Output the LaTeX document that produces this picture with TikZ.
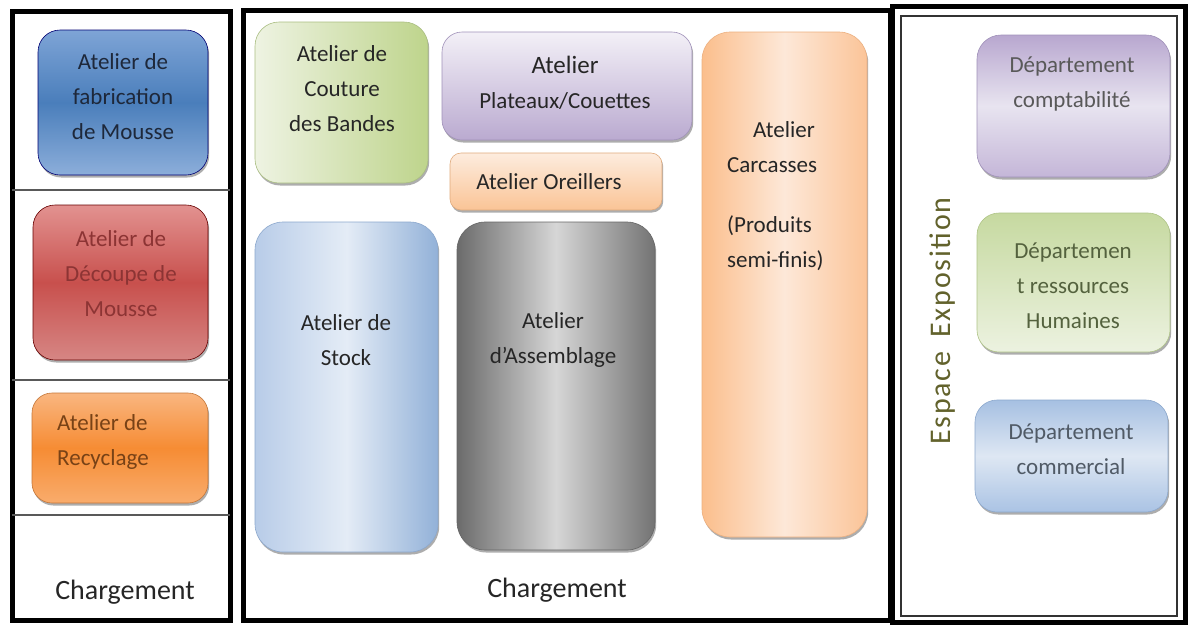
\documentclass[tikz,border=0pt]{standalone}
\usepackage{fontspec}
\setmainfont{Carlito}
\usetikzlibrary{shadows}

\definecolor{inkdark}{HTML}{262626}
\definecolor{inkgray}{HTML}{595959}
\definecolor{olive}{HTML}{62622C}

\tikzset{
  room/.style={rounded corners=#1, draw=black!35, line width=0.6pt, inner sep=0pt,
    drop shadow={shadow xshift=1.2pt, shadow yshift=-2.5pt, opacity=0.4, fill=black!80}},
  room/.default=20pt,
  label/.style={font=\fontsize{23}{35}\selectfont, align=center, text=inkdark, inner sep=0pt},
  bigtext/.style={font=\fontsize{28}{34}\selectfont, text=inkdark, inner sep=0pt},
  frame/.style={line width=5pt, draw=black},
  divider/.style={line width=1.8pt, draw=black!65},
}

\begin{document}
\begin{tikzpicture}[x=1pt, y=-1pt]
\useasboundingbox[fill=white] (0,0) rectangle (1188,625);

% ---------- left wing ----------
\draw[frame] (12,11) rectangle (230,620);
\draw[divider] (12,190) -- (230,190);
\draw[divider] (12,380) -- (230,380);
\draw[divider] (12,515) -- (230,515);

\node[room=22pt, draw=blue!45!black, top color={rgb,255:red,126;green,164;blue,214}, bottom color={rgb,255:red,140;green,174;blue,218}, middle color={rgb,255:red,74;green,126;blue,187}, minimum width=170pt, minimum height=145pt] (mousse) at (123,102.5) {};
\node[label, text={rgb,255:red,30;green,40;blue,58}] (mousse-t) at (123,97) {Atelier de\\fabrication\\de Mousse};

\node[room=22pt, draw=red!40!black, top color={rgb,255:red,226;green,146;blue,144}, bottom color={rgb,255:red,214;green,134;blue,132}, middle color={rgb,255:red,200;green,80;blue,77}, minimum width=175pt, minimum height=155pt] (decoupe) at (120.5,282.5) {};
\node[label, text={rgb,255:red,140;green,52;blue,52}] (decoupe-t) at (121,274) {Atelier de\\Découpe de\\Mousse};

\node[room=20pt, draw={rgb,255:red,196;green,118;blue,56}, top color={rgb,255:red,249;green,182;blue,128}, bottom color={rgb,255:red,249;green,172;blue,108}, middle color={rgb,255:red,246;green,140;blue,52}, minimum width=176pt, minimum height=110pt] (recyclage) at (120,448) {};
\node[label, align=left, anchor=west, text={rgb,255:red,120;green,66;blue,22}] (recyclage-t) at (57,442) {Atelier de\\Recyclage};

\node[bigtext] (charge-g) at (125,592) {Chargement};

% ---------- production hall ----------
\draw[frame] (243,10) rectangle (890,620);

\node[room=24pt, draw={rgb,255:red,170;green,190;blue,130}, shading=axis, shading angle=-45, left color={rgb,255:red,238;green,243;blue,226}, right color={rgb,255:red,190;green,212;blue,140}, minimum width=173pt, minimum height=161pt] (couture) at (341.5,102.5) {};
\node[label] (couture-t) at (342,89) {Atelier de\\Couture\\des Bandes};

\node[room=20pt, draw={rgb,255:red,160;green,145;blue,185}, top color={rgb,255:red,243;green,240;blue,247}, bottom color={rgb,255:red,186;green,170;blue,208}, minimum width=250pt, minimum height=108pt] (plateaux) at (567,86) {};
\node[label] (plateaux-t) at (565,83) {{\fontsize{25}{35}\selectfont Atelier}\\Plateaux/Couettes};

\node[room=11pt, draw={rgb,255:red,224;green,170;blue,124}, top color={rgb,255:red,253;green,236;blue,222}, bottom color={rgb,255:red,250;green,196;blue,150}, minimum width=212pt, minimum height=57pt] (oreillers) at (556,181.5) {};
\node[label] (oreillers-t) at (549,182) {Atelier Oreillers};

\node[room=28pt, draw={rgb,255:red,140;green,168;blue,205}, left color={rgb,255:red,184;green,204;blue,232}, right color={rgb,255:red,146;green,177;blue,216}, middle color={rgb,255:red,228;green,236;blue,246}, minimum width=183pt, minimum height=330pt] (stock) at (346.5,387) {};
\node[label] (stock-t) at (346,340) {Atelier de\\Stock};

\node[room=28pt, draw=black!60, left color=black!58, right color=black!55, middle color=black!16, minimum width=198pt, minimum height=328pt] (assemblage) at (556,386) {};
\node[label] (assemblage-t) at (553,340) {Atelier\\d'Assemblage};

\node[room=28pt, draw={rgb,255:red,236;green,176;blue,128}, left color={rgb,255:red,251;green,190;blue,140}, right color={rgb,255:red,251;green,196;blue,152}, middle color={rgb,255:red,253;green,232;blue,216}, minimum width=165pt, minimum height=505pt] (carcasses) at (784.5,284.5) {};
\node[label, align=left, anchor=west] (carcasses-t) at (727,196) {\hspace{26pt}Atelier\\Carcasses\\[25pt](Produits\\semi-finis)};

\node[bigtext] (charge-m) at (557,590) {Chargement};

% ---------- exhibition and offices ----------
\draw[frame] (892,6.5) rectangle (1185,622);
\draw[line width=1.5pt, draw=black!80] (901,16) rectangle (1177,616);

\node[room=24pt, draw={rgb,255:red,160;green,145;blue,185}, top color={rgb,255:red,184;green,167;blue,207}, bottom color={rgb,255:red,196;green,182;blue,216}, middle color={rgb,255:red,232;green,228;blue,240}, minimum width=193pt, minimum height=142pt] (compta) at (1073.5,106) {};
\node[label, text=inkgray] (compta-t) at (1072,84) {Département\\comptabilité};

\node[room=22pt, draw={rgb,255:red,175;green,196;blue,135}, top color={rgb,255:red,198;green,217;blue,160}, bottom color={rgb,255:red,236;green,242;blue,224}, minimum width=193pt, minimum height=139pt] (rh) at (1073.5,282.5) {};
\node[label, text={rgb,255:red,84;green,98;blue,62}] (rh-t) at (1073,286) {Départemen\\t ressources\\Humaines};

\node[room=22pt, draw={rgb,255:red,140;green,168;blue,205}, top color={rgb,255:red,166;green,192;blue,226}, bottom color={rgb,255:red,170;green,195;blue,228}, middle color={rgb,255:red,222;green,231;blue,243}, minimum width=193pt, minimum height=112pt] (commercial) at (1071.5,456) {};
\node[label, text={rgb,255:red,80;green,90;blue,102}] (commercial-t) at (1071,449) {Département\\commercial};

\node[font=\fontsize{30}{34}\selectfont\addfontfeature{LetterSpace=6}, text=olive, rotate=90, inner sep=0pt] (expo) at (943,321) {Espace\hspace{14pt}Exposition};

\end{tikzpicture}
\end{document}
